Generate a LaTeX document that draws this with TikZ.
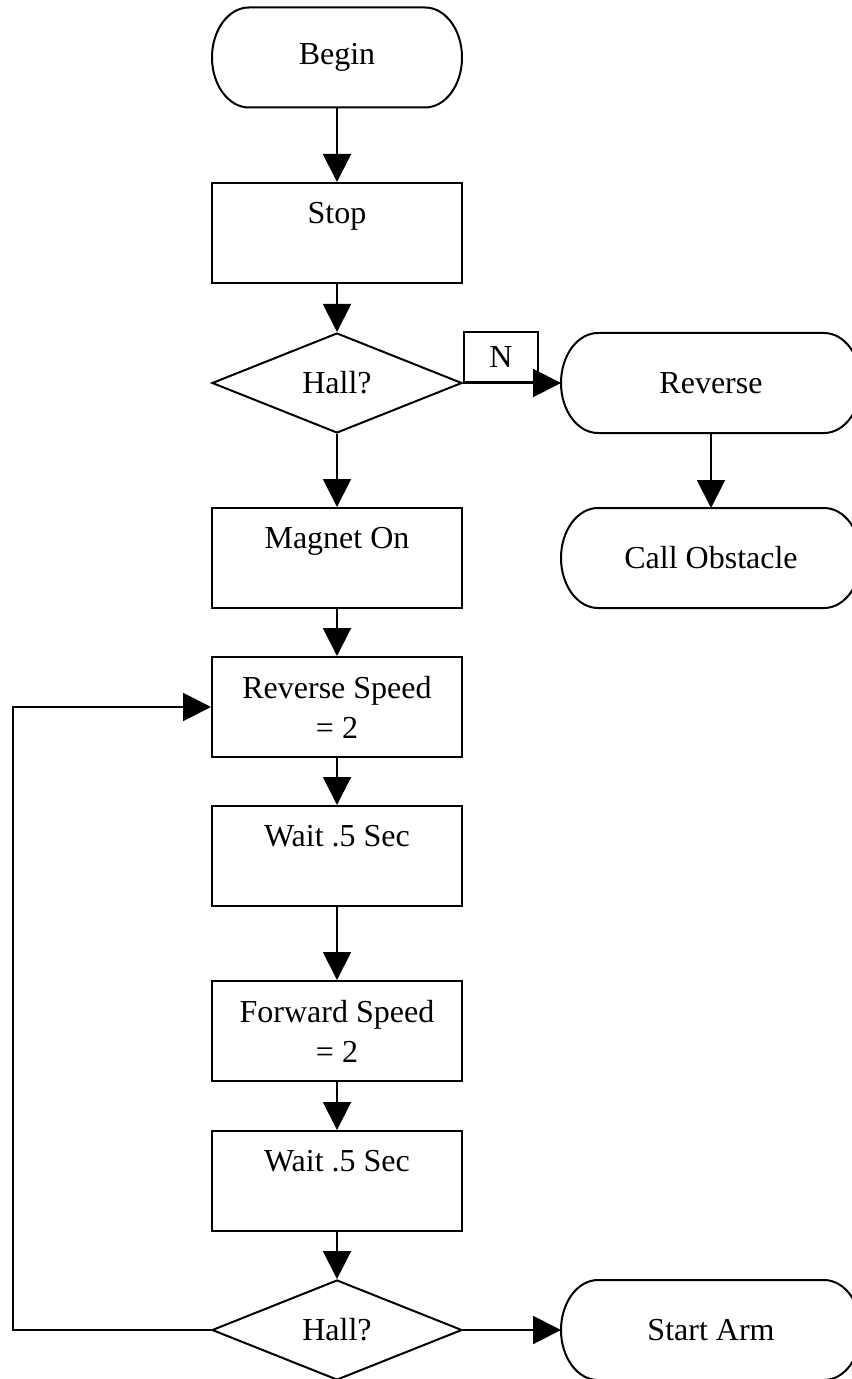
\documentclass[tikz,border=0pt]{standalone}
\usepackage{fontspec}
\setmainfont{Liberation Serif}
\usetikzlibrary{shapes.geometric,arrows.meta}

\begin{document}
\begin{tikzpicture}[x=0.5pt,y=-0.5pt,line width=1pt,
    every node/.style={font=\fontsize{16}{20}\selectfont,inner sep=0pt},
    term/.style={rectangle,outer sep=0pt,minimum width=150pt,minimum height=50pt,
      append after command={\pgfextra{\draw ([xshift=18.5pt]\tikzlastnode.north west)
        -- ([xshift=-18.5pt]\tikzlastnode.north east) arc[start angle=90,end angle=-90,x radius=18.5pt,y radius=25pt]
        -- ([xshift=18.5pt]\tikzlastnode.south west) arc[start angle=270,end angle=90,x radius=18.5pt,y radius=25pt]
        -- cycle;}}},
    proc/.style={draw,rectangle,minimum width=125pt,minimum height=50pt,align=center},
    dec/.style={draw,diamond,minimum width=125pt,minimum height=50pt},
    flow/.style={-{Triangle[width=14pt,length=14pt]}}]
    \useasboundingbox (0,0) rectangle (851,1379);
    \node [term,minimum width=125pt] (begin) at (337,57.5) {Begin};
    \node [proc] (stop) at (337,233) {Stop\\~};
    \node [dec] (hall1) at (337,383) {Hall?};
    \node [draw,minimum width=37pt,minimum height=25pt,anchor=south west] (nlab) at (hall1.east) {N};
    \node [term] (reverse) at (711,383) {Reverse};
    \node [term] (obstacle) at (711,558) {Call Obstacle};
    \node [proc] (magnet) at (337,558) {Magnet On\\~};
    \node [proc] (revspeed) at (337,707) {Reverse Speed\\= 2};
    \node [proc] (wait1) at (337,856) {Wait .5 Sec\\~};
    \node [proc] (fwdspeed) at (337,1031) {Forward Speed\\= 2};
    \node [proc] (wait2) at (337,1181) {Wait .5 Sec\\~};
    \node [dec] (hall2) at (337,1330) {Hall?};
    \node [term] (startarm) at (711,1330) {Start Arm};
    \coordinate (loop) at (13,1330);
    \draw [flow] (begin) -- (stop);
    \draw [flow] (stop) -- (hall1);
    \draw [flow] (hall1.east) -- (reverse.west);
    \draw [flow] (reverse) -- (obstacle);
    \draw [flow] (hall1) -- (magnet);
    \draw [flow] (magnet) -- (revspeed);
    \draw [flow] (revspeed) -- (wait1);
    \draw [flow] (wait1) -- (fwdspeed);
    \draw [flow] (fwdspeed) -- (wait2);
    \draw [flow] (wait2) -- (hall2);
    \draw [flow] (hall2.east) -- (startarm.west);
    \draw [flow] (hall2.west) -- (loop) |- (revspeed.west);
\end{tikzpicture}
\end{document}
